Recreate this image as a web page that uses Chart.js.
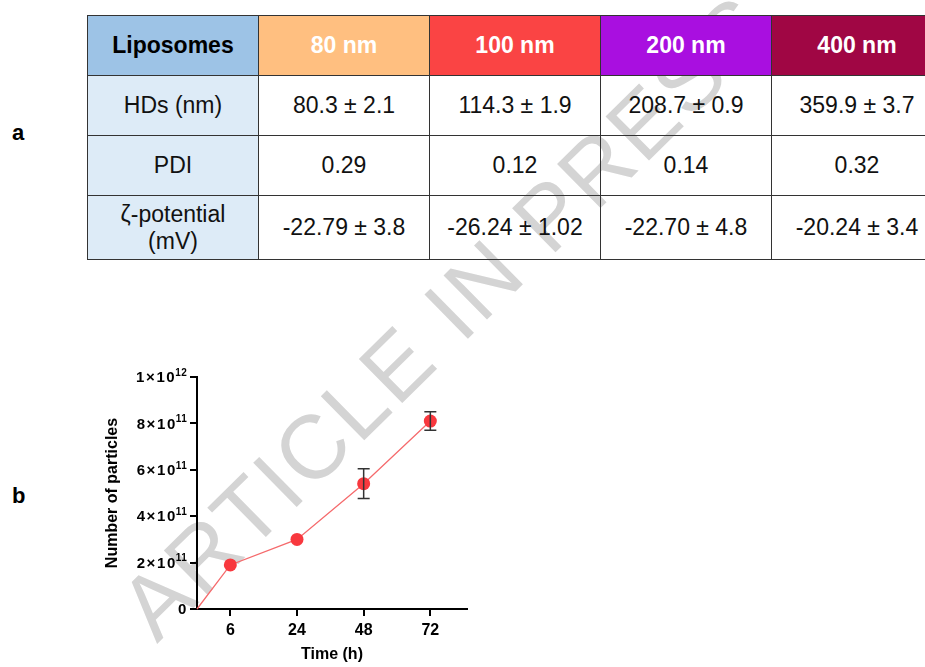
<!DOCTYPE html>
<html lang="en">
<head>
    <meta charset="UTF-8">
    <title>Liposome characterisation</title>
    <script src="https://cdn.jsdelivr.net/npm/chart.js"></script>
    <style>
        html, body {
            margin: 0;
            padding: 0;
            width: 925px;
            height: 667px;
            overflow: hidden;
            background: #fff;
            font-family: 'Liberation Sans', Arial, sans-serif;
        }
        .panel-label {
            position: absolute;
            font-weight: bold;
            font-size: 22px;
            line-height: 22px;
            color: #000;
            z-index: 1;
        }
        table {
            position: absolute;
            left: 87px;
            top: 15px;
            border-collapse: collapse;
            table-layout: fixed;
            width: 850px;
            z-index: 1;
        }
        td {
            width: 170px;
            border: 1.5px solid #333;
            text-align: center;
            font-size: 23px;
            color: #111;
            padding: 0;
            line-height: 27px;
            background: transparent;
        }
        tr.head td { height: 59px; font-weight: bold; color: #fff; }
        tr.row td { height: 59px; }
        tr.last td { height: 63px; }
        td.rowhead { background: #DDEBF7; }
        #chartBox {
            position: absolute;
            left: 90px;
            top: 365px;
            width: 390px;
            height: 302px;
            z-index: 1;
        }
        /* watermark sits behind the table and the chart,
           rotated about the left end of its baseline */
        #watermark {
            position: absolute;
            left: 157px;
            top: 568px;
            transform-origin: 0 76px;
            transform: rotate(-44.5deg);
            font-family: 'Liberation Sans', Arial, sans-serif;
            font-weight: normal;
            font-size: 90px;
            line-height: 1;
            letter-spacing: 3px;
            color: #d4d4d4;
            white-space: nowrap;
            z-index: 0;
        }
    </style>
</head>
<body>

<div id="watermark">ARTICLE IN PRESS</div>

<div class="panel-label" style="left:12px; top:122px;">a</div>
<div class="panel-label" style="left:12px; top:485px;">b</div>

<table>
    <tr class="head">
        <td style="background:#9DC3E6; color:#000;">Liposomes</td>
        <td style="background:#FFBF80;">80 nm</td>
        <td style="background:#FA4444;">100 nm</td>
        <td style="background:#A90FE0;">200 nm</td>
        <td style="background:#A00644;">400 nm</td>
    </tr>
    <tr class="row">
        <td class="rowhead">HDs (nm)</td>
        <td>80.3 ± 2.1</td>
        <td>114.3 ± 1.9</td>
        <td>208.7 ± 0.9</td>
        <td>359.9 ± 3.7</td>
    </tr>
    <tr class="row">
        <td class="rowhead">PDI</td>
        <td>0.29</td>
        <td>0.12</td>
        <td>0.14</td>
        <td>0.32</td>
    </tr>
    <tr class="last">
        <td class="rowhead">ζ-potential<br>(mV)</td>
        <td>-22.79 ± 3.8</td>
        <td>-26.24 ± 1.02</td>
        <td>-22.70 ± 4.8</td>
        <td>-20.24 ± 3.4</td>
    </tr>
</table>

<div id="chartBox"><canvas id="particleChart"></canvas></div>

<script>
    // time points (h) and particle counts
    const timeLabels = ['6', '24', '48', '72'];
    const particles = [1.9e11, 3.0e11, 5.4e11, 8.1e11];
    const particleErr = [0, 0, 6.4e10, 4.0e10];

    // y ticks: value, mantissa text and exponent (superscript)
    const yTicks = [0, 2e11, 4e11, 6e11, 8e11, 1e12];
    const yTickBase = ['0', '2×10', '4×10', '6×10', '8×10', '1×10'];
    const yTickExp = ['', '11', '11', '11', '11', '12'];

    // x positions: evenly spaced groups, the curve starts at the origin
    const xPos = timeLabels.map((t, i) => i + 0.5);
    const points = [{x: 0, y: 0}].concat(xPos.map((x, i) => ({x: x, y: particles[i]})));
    const errs = [0].concat(particleErr);

    const FONT = "'Liberation Sans', Arial, sans-serif";

    // draw the SD bars with the chart's own scales
    const errorBars = {
        id: 'errorBars',
        afterDatasetsDraw(chart) {
            const ctx = chart.ctx;
            const xs = chart.scales.x, ys = chart.scales.y;
            ctx.save();
            ctx.strokeStyle = '#333';
            ctx.lineWidth = 1.5;
            points.forEach((p, i) => {
                if (!errs[i]) return;
                const px = xs.getPixelForValue(p.x);
                const top = ys.getPixelForValue(p.y + errs[i]);
                const bot = ys.getPixelForValue(p.y - errs[i]);
                ctx.beginPath();
                ctx.moveTo(px, top); ctx.lineTo(px, bot);
                ctx.moveTo(px - 6, top); ctx.lineTo(px + 6, top);
                ctx.moveTo(px - 6, bot); ctx.lineTo(px + 6, bot);
                ctx.stroke();
            });
            ctx.restore();
        }
    };

    // y tick labels with a raised exponent (a×10^n)
    const sciTicks = {
        id: 'sciTicks',
        afterDraw(chart) {
            const ctx = chart.ctx;
            const ys = chart.scales.y;
            const right = ys.right - 9;
            ctx.save();
            ctx.fillStyle = '#000';
            ctx.textBaseline = 'middle';
            ctx.textAlign = 'left';
            yTicks.forEach((v, i) => {
                const py = ys.getPixelForValue(v) + 1;
                ctx.font = 'bold 10px ' + FONT;
                ctx.letterSpacing = '0.3px';
                const ew = yTickExp[i] ? ctx.measureText(yTickExp[i]).width : 0;
                ctx.font = 'bold 15px ' + FONT;
                ctx.letterSpacing = '1.6px';
                const bw = ctx.measureText(yTickBase[i]).width;
                const x0 = right - ew - bw;
                ctx.fillText(yTickBase[i], x0, py);
                if (yTickExp[i]) {
                    ctx.font = 'bold 10px ' + FONT;
                    ctx.letterSpacing = '0.3px';
                    ctx.fillText(yTickExp[i], x0 + bw - 1, py - 5);
                }
            });
            ctx.restore();
        }
    };

    new Chart(document.getElementById('particleChart'), {
        type: 'line',
        data: {
            datasets: [{
                data: points,
                borderColor: '#F56A6C',
                borderWidth: 1.3,
                backgroundColor: '#F8383E',
                pointBackgroundColor: '#F8383E',
                pointBorderWidth: 0,
                pointRadius: points.map((p, i) => i === 0 ? 0 : 6.5),
                tension: 0,
                clip: false
            }]
        },
        options: {
            responsive: true,
            maintainAspectRatio: false,
            animation: false,
            layout: {padding: {top: 12, right: 13, bottom: 0, left: 0}},
            plugins: {
                legend: {display: false},
                tooltip: {enabled: false}
            },
            scales: {
                x: {
                    type: 'linear',
                    min: 0,
                    max: 4.05,
                    afterBuildTicks: scale => { scale.ticks = xPos.map(v => ({value: v})); },
                    afterFit: scale => { scale.height = 58; },
                    ticks: {
                        color: '#000',
                        font: {family: FONT, size: 16, weight: 'bold'},
                        padding: 5,
                        maxRotation: 0,
                        callback: (v) => timeLabels[xPos.indexOf(v)]
                    },
                    grid: {drawOnChartArea: false, drawTicks: true, tickLength: 7, color: '#000', lineWidth: 2},
                    border: {display: true, color: '#000', width: 2},
                    title: {
                        display: true,
                        text: 'Time (h)',
                        color: '#000',
                        font: {family: FONT, size: 16, weight: 'bold'},
                        padding: {top: 4, bottom: 3}
                    }
                },
                y: {
                    min: 0,
                    max: 1e12,
                    afterBuildTicks: scale => { scale.ticks = yTicks.map(v => ({value: v})); },
                    afterFit: scale => { scale.width = 107; },
                    ticks: {
                        color: '#000',
                        callback: () => ''
                    },
                    grid: {drawOnChartArea: false, drawTicks: true, tickLength: 7, color: '#000', lineWidth: 2},
                    border: {display: true, color: '#000', width: 2},
                    title: {
                        display: true,
                        text: 'Number of particles',
                        color: '#000',
                        font: {family: FONT, size: 16, weight: 'bold'},
                        padding: {top: 13, bottom: 4}
                    }
                }
            }
        },
        plugins: [errorBars, sciTicks]
    });
</script>
</body>
</html>
